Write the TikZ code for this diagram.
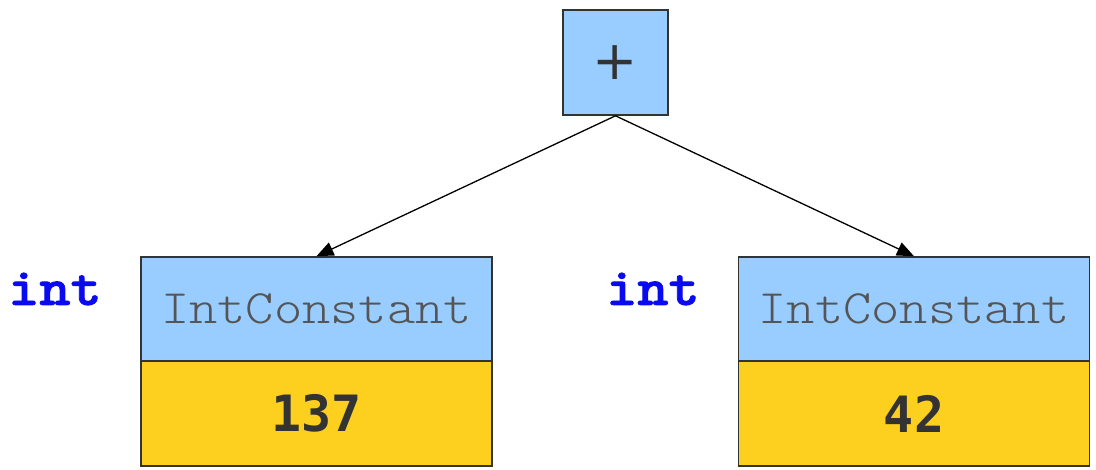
\documentclass[tikz,border=0pt]{standalone}
\usepackage{fontspec}
% typewriter faces for class names and keywords
\newfontfamily\codefont{lmmonolt10-regular.otf}[FakeStretch=1.12]
\newfontfamily\kwfont{lmmonolt10-bold.otf}[FakeStretch=1.12, FakeBold=1.5]
\newfontfamily\digitfont{DejaVu Sans Mono Bold}
\newfontfamily\opfont{DejaVu Sans}
\usetikzlibrary{arrows.meta}
\definecolor{nodeblue}{HTML}{99CCFF}
\definecolor{valyellow}{HTML}{FDCF1E}
\definecolor{edgegray}{HTML}{333333}
\definecolor{textgray}{HTML}{555555}
\definecolor{kwblue}{HTML}{0A0AF0}
\tikzset{
  box/.style={draw=edgegray, line width=1.6pt, inner sep=0pt},
  head/.style={box, fill=nodeblue, minimum width=351pt, minimum height=104pt,
    font=\fontsize{48}{48}\selectfont\codefont, text=textgray},
  value/.style={box, fill=valyellow, minimum width=351pt, minimum height=105pt,
    font=\fontsize{50}{50}\selectfont\digitfont, text=edgegray},
  opbox/.style={box, fill=nodeblue, minimum width=105pt, minimum height=105pt,
    font=\fontsize{54}{54}\selectfont\opfont, text=edgegray},
  kw/.style={font=\fontsize{53}{53}\selectfont\kwfont, text=kwblue, inner sep=0pt},
  link/.style={line width=1.3pt, -{Triangle[length=17pt,width=14pt]}}
}
\begin{document}
\begin{tikzpicture}[x=1pt,y=-1pt]
\useasboundingbox (0,0) rectangle (1096,469);
% operator node
\node[opbox] (plus) at (615.5,62.5) {+};
% left operand
\node[head] (lhead) at (316.5,309) {IntConstant};
\node[value] (lval) at (316.5,413.5) {137};
% right operand
\node[head] (rhead) at (914,309) {IntConstant};
\node[value] (rval) at (914,413.5) {42};
% type annotations
\node[kw, anchor=west] (ltype) at (8,289) {int};
\node[kw, anchor=west] (rtype) at (606,289) {int};
% edges
\draw[link] (plus.south) -- (lhead.north);
\draw[link] (plus.south) -- (rhead.north);
\end{tikzpicture}
\end{document}
